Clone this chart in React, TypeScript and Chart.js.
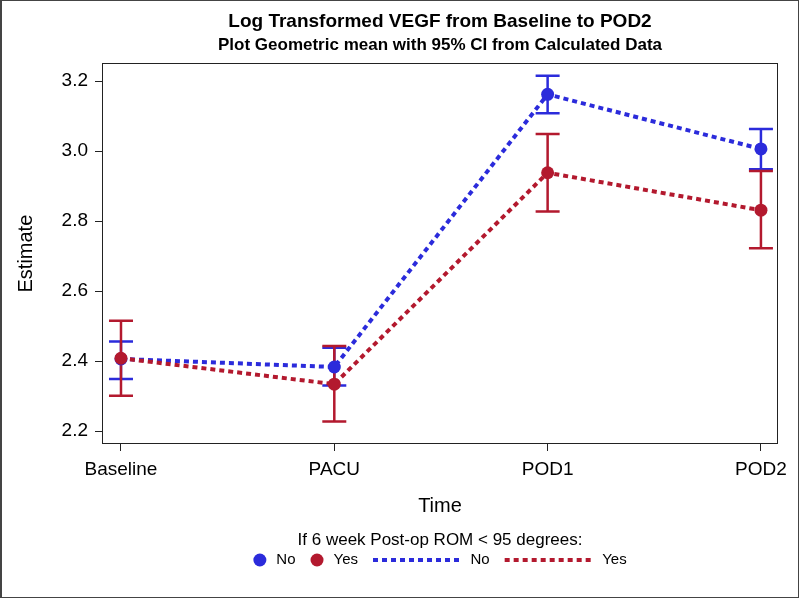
import React, { useEffect, useRef } from 'react';
import { Chart, registerables } from 'chart.js';

Chart.register(...registerables);

const timepoints = ['Baseline', 'PACU', 'POD1', 'POD2'];
const noMean = [2.406, 2.383, 3.162, 3.006];
const noLower = [2.349, 2.330, 3.108, 2.948];
const noUpper = [2.456, 2.438, 3.215, 3.063];
const yesMean = [2.408, 2.334, 2.938, 2.831];
const yesLower = [2.301, 2.227, 2.827, 2.722];
const yesUpper = [2.515, 2.443, 3.049, 2.943];
const yTicks = [2.2, 2.4, 2.6, 2.8, 3.0, 3.2];

const titleText = 'Log Transformed VEGF from Baseline to POD2';
const subtitleText = 'Plot Geometric mean with 95% CI from Calculated Data';
const legendTitle = 'If 6 week Post-op ROM < 95 degrees:';
const groupLabels = ['No', 'Yes'];

const BLUE = '#2B2BDB';
const RED = '#B3192E';
const FONT = "'Liberation Sans', Arial, sans-serif";

const errorBarPlugin = {
  id: 'errorBars',
  beforeDatasetsDraw(chart: any) {
    const { ctx, scales } = chart;
    const x = scales.x;
    const y = scales.y;
    const series = [
      { lower: noLower, upper: noUpper, color: BLUE },
      { lower: yesLower, upper: yesUpper, color: RED },
    ];
    ctx.save();
    ctx.lineWidth = 2.5;
    ctx.lineCap = 'butt';
    series.forEach((s) => {
      ctx.strokeStyle = s.color;
      s.lower.forEach((lo, i) => {
        const px = x.getPixelForValue(i);
        const pl = y.getPixelForValue(lo);
        const pu = y.getPixelForValue(s.upper[i]);
        const half = 12;
        ctx.beginPath();
        ctx.moveTo(px, pl);
        ctx.lineTo(px, pu);
        ctx.moveTo(px - half, pl);
        ctx.lineTo(px + half, pl);
        ctx.moveTo(px - half, pu);
        ctx.lineTo(px + half, pu);
        ctx.stroke();
      });
    });
    ctx.restore();
  },
};

const framePlugin = {
  id: 'frameAndLegend',
  afterDraw(chart: any) {
    const { ctx, chartArea } = chart;
    ctx.save();
    // plot frame
    ctx.strokeStyle = '#222';
    ctx.lineWidth = 1;
    ctx.strokeRect(
      Math.round(chartArea.left) + 0.5,
      Math.round(chartArea.top) + 0.5,
      Math.round(chartArea.right - chartArea.left) - 1,
      Math.round(chartArea.bottom - chartArea.top) - 1
    );
    // outer border
    ctx.strokeStyle = '#444';
    ctx.strokeRect(0.5, 0.5, chart.width - 2, chart.height - 2);
    ctx.fillStyle = '#444';
    ctx.fillRect(0, 0, 2, chart.height - 1);

    // legend
    const cx = (chartArea.left + chartArea.right) / 2;
    ctx.fillStyle = '#000';
    ctx.textBaseline = 'middle';
    ctx.textAlign = 'center';
    ctx.font = `17px ${FONT}`;
    ctx.fillText(legendTitle, cx, 540);

    ctx.font = `15px ${FONT}`;
    const items = [
      { kind: 'circle', color: BLUE, text: groupLabels[0] },
      { kind: 'circle', color: RED, text: groupLabels[1] },
      { kind: 'line', color: BLUE, text: groupLabels[0] },
      { kind: 'line', color: RED, text: groupLabels[1] },
    ];
    const symW = (k: string) => (k === 'circle' ? 13 : 89);
    const gapIn = (k: string) => (k === 'circle' ? 10 : 8.5);
    const gapOut = 15;
    let total = 0;
    items.forEach((it, i) => {
      total += symW(it.kind) + gapIn(it.kind) + ctx.measureText(it.text).width;
      if (i < items.length - 1) total += gapOut;
    });
    let xPos = cx - total / 2;
    const rowY = 560;
    ctx.textAlign = 'left';
    items.forEach((it) => {
      const w = symW(it.kind);
      if (it.kind === 'circle') {
        ctx.fillStyle = it.color;
        ctx.beginPath();
        ctx.arc(xPos + w / 2, rowY, 6.5, 0, Math.PI * 2);
        ctx.fill();
      } else {
        ctx.strokeStyle = it.color;
        ctx.lineWidth = 4;
        ctx.setLineDash([5, 4]);
        ctx.beginPath();
        ctx.moveTo(xPos, rowY);
        ctx.lineTo(xPos + w, rowY);
        ctx.stroke();
        ctx.setLineDash([]);
      }
      xPos += w + gapIn(it.kind);
      ctx.fillStyle = '#000';
      ctx.fillText(it.text, xPos, rowY);
      xPos += ctx.measureText(it.text).width + gapOut;
    });
    ctx.restore();
  },
};

export default function App() {
  const canvasRef = useRef<HTMLCanvasElement | null>(null);

  useEffect(() => {
    document.body.style.margin = '0';
    const canvas = canvasRef.current;
    if (!canvas) return;
    Chart.defaults.font.family = FONT;
    Chart.defaults.color = '#000';

    const chart = new Chart(canvas, {
      type: 'line',
      data: {
        datasets: [
          {
            label: groupLabels[0],
            data: noMean.map((v, i) => ({ x: i, y: v })),
            borderColor: BLUE,
            backgroundColor: BLUE,
            borderWidth: 4,
            borderDash: [5, 4],
            borderCapStyle: 'butt',
            pointRadius: 6.5,
            pointBackgroundColor: BLUE,
            pointBorderWidth: 0,
            pointHoverRadius: 6.5,
            tension: 0,
            fill: false,
            order: 1,
          },
          {
            label: groupLabels[1],
            data: yesMean.map((v, i) => ({ x: i, y: v })),
            borderColor: RED,
            backgroundColor: RED,
            borderWidth: 4,
            borderDash: [5, 4],
            borderCapStyle: 'butt',
            pointRadius: 6.5,
            pointBackgroundColor: RED,
            pointBorderWidth: 0,
            pointHoverRadius: 6.5,
            tension: 0,
            fill: false,
            order: 0,
          },
        ],
      },
      options: {
        responsive: false,
        animation: false,
        events: [],
        layout: { padding: { left: 10, right: 22, top: 0, bottom: 75 } },
        plugins: {
          legend: { display: false },
          tooltip: { enabled: false },
          title: {
            display: true,
            text: titleText,
            color: '#000',
            fullSize: false,
            font: { size: 19, weight: 'bold', family: FONT },
            padding: { top: 10, bottom: 0 },
          },
          subtitle: {
            display: true,
            text: subtitleText,
            color: '#000',
            fullSize: false,
            font: { size: 17, weight: 'bold', family: FONT },
            padding: { top: 2, bottom: 8 },
          },
        },
        scales: {
          x: {
            type: 'linear',
            min: -0.089,
            max: 3.08,
            afterBuildTicks: (s: any) => {
              s.ticks = timepoints.map((_, i) => ({ value: i }));
            },
            afterFit: (s: any) => {
              s.height = 80;
              s.paddingLeft = 0;
              s.paddingRight = 0;
            },
            ticks: {
              callback: (v: any) => timepoints[v as number] ?? '',
              font: { size: 19, family: FONT },
              color: '#000',
              padding: 7,
              autoSkip: false,
              maxRotation: 0,
            },
            grid: {
              display: true,
              drawOnChartArea: false,
              drawTicks: true,
              tickLength: 7,
              color: '#222',
            },
            border: { display: false },
            title: {
              display: true,
              text: 'Time',
              color: '#000',
              font: { size: 20, family: FONT },
              padding: { top: 0, bottom: 6 },
            },
          },
          y: {
            type: 'linear',
            min: 2.163,
            max: 3.251,
            afterBuildTicks: (s: any) => {
              s.ticks = yTicks.map((v) => ({ value: v }));
            },
            afterFit: (s: any) => {
              s.width = 92;
              s.paddingTop = 0;
              s.paddingBottom = 0;
            },
            ticks: {
              callback: (v: any) => Number(v).toFixed(1),
              font: { size: 19, family: FONT },
              color: '#000',
              padding: 7,
            },
            grid: {
              display: true,
              drawOnChartArea: false,
              drawTicks: true,
              tickLength: 7,
              color: '#222',
            },
            border: { display: false },
            title: {
              display: true,
              text: 'Estimate',
              color: '#000',
              font: { size: 20, family: FONT },
              padding: { top: 4, bottom: 0 },
            },
          },
        },
      },
      plugins: [errorBarPlugin, framePlugin],
    } as any);

    return () => {
      chart.destroy();
    };
  }, []);

  return (
    <div style={{ width: 800, height: 599, position: 'relative', background: '#fff' }}>
      <canvas ref={canvasRef} width={800} height={599} style={{ display: 'block' }} />
    </div>
  );
}
